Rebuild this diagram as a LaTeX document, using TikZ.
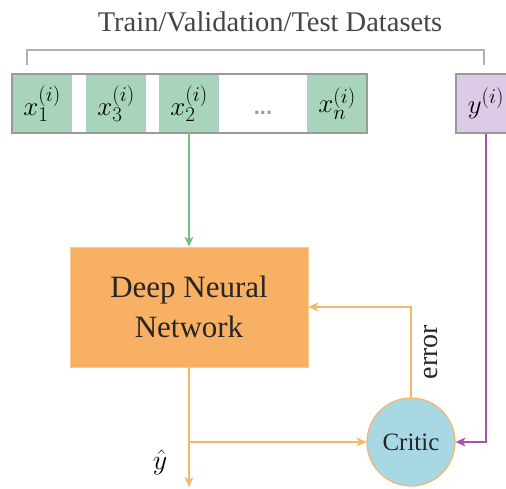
\RequirePackage{fix-cm}
\documentclass[tikz,border=0pt]{standalone}
\usepackage{fontspec}
\setmainfont{Liberation Serif}
\newfontfamily\dotsfont{Liberation Sans}
\usetikzlibrary{arrows.meta}
\DeclareMathSizes{27}{27}{21}{16}
\definecolor{cellgreen}{HTML}{A7D4BA}
\definecolor{cellpurple}{HTML}{DCCAE6}
\definecolor{dnnorange}{HTML}{F7B064}
\definecolor{linkorange}{HTML}{F6B46C}
\definecolor{criticblue}{HTML}{A8D8E3}
\definecolor{linkgreen}{HTML}{74BF88}
\definecolor{linkpurple}{HTML}{A653A8}
\definecolor{framegray}{HTML}{9A9A9A}
\definecolor{bracketgray}{HTML}{B0B0B0}
\definecolor{titlegray}{HTML}{454545}
\tikzset{
  cell/.style={fill=cellgreen, minimum width=60pt, minimum height=59pt, inner sep=0pt, font=\fontsize{27}{30}\selectfont},
  tip/.style={-{Stealth[length=10pt,width=9pt,inset=3pt]}},
  link/.style={line width=1.3pt, tip},
}
\begin{document}
\begin{tikzpicture}[x=1pt,y=-1pt]
\useasboundingbox (0,0) rectangle (506,489);
% title and bracket over the datasets
\node[text=titlegray, font=\fontsize{28.5}{32}\selectfont] (title) at (270,22) {Train/Validation/Test Datasets};
\draw[bracketgray, line width=1.2pt] (27,65) -- (27,50) -- (484,50) -- (484,65);
% input features strip
\node[cell] (x1) at (42,103.5) {$x_1^{(i)}$};
\node[cell] (x3) at (116,103.5) {$x_3^{(i)}$};
\node[cell] (x2) at (189,103.5) {$x_2^{(i)}$};
\node[anchor=base, inner sep=0pt, text=framegray, font=\dotsfont\bfseries\fontsize{22}{22}\selectfont] (dots) at (263,115) {...};
\node[cell] (xn) at (337,103.5) {$x_n^{(i)}$};
\draw[framegray, line width=1.2pt] (12,74) rectangle (367,133);
% label box
\node[cell, fill=cellpurple, draw=framegray, line width=1.2pt] (y) at (486,103.5) {$y^{(i)}$};
% network and critic
\node[fill=dnnorange, draw=dnnorange!70!white, line width=0.8pt, minimum width=238pt, minimum height=120pt, align=center, text=black!85, font=\fontsize{31}{40}\selectfont] (dnn) at (189,307) {Deep Neural\\Network};
\node[circle, fill=criticblue, draw=linkorange, line width=1.2pt, minimum size=88pt, inner sep=0pt, text=black!85, font=\fontsize{25}{30}\selectfont] (critic) at (411,442) {Critic};
\coordinate (split) at (189,442);
\coordinate (out) at (189,487);
\coordinate (errturn) at (411,307);
\coordinate (yturn) at (486,442);
% connectors
\draw[link, linkgreen] (x2.south) -- (dnn.north);
\draw[line width=1.3pt, linkorange] (dnn.south) -- (split);
\draw[link, linkorange] (split) -- (out);
\draw[link, linkorange] (split) -- (critic.west);
\draw[link, linkorange] (critic.north) -- (errturn) -- (dnn.east);
\draw[link, linkpurple] (y.south) -- (yturn) -- (critic.east);
% labels
\node[font=\fontsize{28}{32}\selectfont] (yhat) at (160,462) {$\hat{y}$};
\node[rotate=90, text=black!85, font=\fontsize{28}{32}\selectfont] (errlabel) at (431,352) {error};
\end{tikzpicture}
\end{document}
